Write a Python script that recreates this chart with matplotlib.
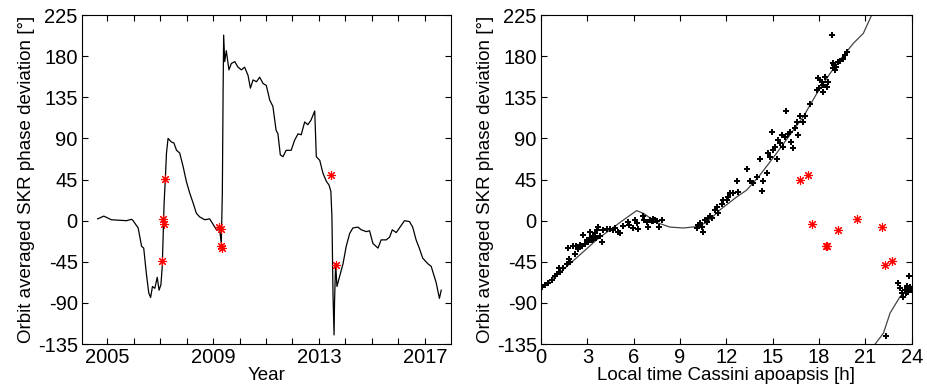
import numpy as np
import matplotlib
matplotlib.use('Agg')
import matplotlib.pyplot as plt
from matplotlib.ticker import MultipleLocator

plt.rcParams['font.family'] = ['Liberation Sans', 'DejaVu Sans']
plt.rcParams['font.size'] = 13.5
plt.rcParams['axes.unicode_minus'] = False

# left panel: orbit averaged phase deviation vs year
year = [2004.64, 2004.87, 2005.16, 2005.73, 2005.92, 2005.98, 2006.17, 2006.30, 2006.38, 2006.48,
        2006.57, 2006.64, 2006.71, 2006.80, 2006.89, 2006.96, 2007.03, 2007.08, 2007.11, 2007.15,
        2007.20, 2007.24, 2007.30, 2007.43, 2007.52, 2007.62, 2007.74, 2007.87, 2007.99, 2008.12,
        2008.25, 2008.37, 2008.50, 2008.69, 2008.87, 2009.00, 2009.13, 2009.25, 2009.31, 2009.35,
        2009.38, 2009.40, 2009.44, 2009.50, 2009.60, 2009.69, 2009.82, 2009.94, 2010.07, 2010.19,
        2010.32, 2010.41, 2010.51, 2010.64, 2010.76, 2010.89, 2011.01, 2011.14, 2011.26, 2011.38,
        2011.45, 2011.54, 2011.64, 2011.76, 2011.95, 2012.08, 2012.21, 2012.33, 2012.46, 2012.58,
        2012.70, 2012.84, 2012.90, 2013.03, 2013.15, 2013.28, 2013.38, 2013.45, 2013.49, 2013.53,
        2013.57, 2013.59, 2013.63, 2013.68, 2013.78, 2013.91, 2014.03, 2014.16, 2014.28, 2014.47,
        2014.60, 2014.79, 2014.91, 2015.04, 2015.23, 2015.35, 2015.54, 2015.67, 2015.77, 2015.92,
        2016.04, 2016.23, 2016.42, 2016.54, 2016.67, 2016.79, 2016.92, 2017.11, 2017.24, 2017.43,
        2017.55, 2017.62]
phase = [2, 5, 1, 0, 1.5, 0, -8, -28, -30, -58,
         -79, -84, -72, -74, -62, -76, -70, -50, -21, 19,
         48, 74, 90, 86, 85, 77, 74, 59, 43, 30,
         19, 8, 4, 1, 2, -4, -10, -10, -25, 30,
         146, 203, 174, 186, 165, 172, 174, 168, 165, 168,
         159, 145, 154, 152, 157, 150, 148, 132, 125, 99,
         95, 72, 70, 77, 77, 88, 95, 94, 108, 105,
         110, 120, 70, 66, 52, 43, 39, 32, 4, -80,
         -125, -87, -47, -72, -61, -47, -28, -14, -8, -7,
         -10, -12, -11, -25, -30, -21, -21, -18, -10, -13,
         -8, 0, -1, -7, -21, -30, -41, -47, -50, -68,
         -85, -76]

# red events (year / local time / phase)
ev_year = [2007.18, 2007.09, 2007.14, 2007.06, 2009.21, 2009.29, 2009.31, 2009.34, 2013.47, 2013.63]
ev_phase_l = [46, 2, -4, -44, -7, -9, -28, -30, 50, -48]
ev_lt = [16.77, 17.27, 17.52, 18.45, 18.54, 19.21, 20.44, 22.06, 22.27, 22.75]
ev_phase_r = [45, 50, -4, -28, -28, -10, 2, -7, -48, -44]

# right panel: model curve vs local time
lt_curve = [0, 1.88, 3.6, 4.47, 5.33, 6.19, 6.63, 7.49, 8.35, 9.22, 10.08, 10.73, 11.6, 12.67,
            13.32, 14.18, 15.26, 16.12, 16.99, 17.85, 18.71, 19.36, 20.22, 20.87, 21.41]
ph_curve = [-74, -47, -21, -10, 0.7, 11, 8, -2, -7, -8, -6.5, -2, 12, 26,
            33.5, 50, 74, 94, 114, 139, 161, 176, 194, 205, 225]
lt_curve2 = [21.63, 22.17, 22.60, 23.25, 24.0]
ph_curve2 = [-135, -123, -101, -83, -72]

# right panel: individual orbits
lt_pts = [0.04, 0.26, 0.47, 0.69, 0.91, 1.06, 1.23, 1.45, 1.19, 1.66, 1.83, 1.88, 1.77, 2.09, 2.2,
          2.27, 2.42, 2.53, 2.63, 2.74, 2.85, 2.96, 3.06, 3.17, 3.28, 3.39, 3.5, 3.56, 3.65, 3.71,
          3.82, 3.93, 3.39, 3.17,
          4.04, 4.25, 4.47, 4.64, 4.79, 5.01, 5.12, 5.29, 5.65, 5.72, 5.94, 6.09, 6.19, 6.3, 6.58,
          6.69, 6.84, 6.95, 7.06, 7.23, 7.38, 7.53, 7.66, 7.81, 7.17, 7.27,
          10.08, 10.19, 10.3, 10.4, 10.51, 10.62, 10.73, 10.84, 10.94, 11.05, 11.27, 11.37, 11.48,
          11.7, 11.81, 12.02, 12.13, 12.24, 12.45, 12.67, 12.78,
          13.32, 13.53, 13.75, 13.97, 14.18, 14.29, 14.4, 14.61, 14.72, 14.94, 14.83, 15.04, 15.15,
          15.26, 15.37, 15.48, 15.58, 15.69, 15.8, 15.86, 16.02, 16.12, 16.17, 16.3, 16.45, 16.56,
          16.66, 16.77, 16.99, 17.09,
          17.42, 17.85, 17.96, 18.07, 18.17, 18.28, 18.39, 18.5, 18.61, 18.02, 18.24, 18.82, 18.89,
          18.97, 19.04, 19.1, 18.93, 19.25, 19.36, 19.53, 19.68, 19.79,
          23.14, 23.25, 23.36, 23.46, 23.57, 23.64, 23.68, 23.79, 23.85, 23.9, 23.94, 23.85, 23.42,
          22.34]
ph_pts = [-73, -70, -68.5, -65, -61, -58, -56, -52, -52, -47, -42, -45, -30, -28, -36,
          -28, -31, -27, -28, -16, -25, -21, -23, -19, -21, -17, -14, -19, -10, -7,
          -17, -23, -20, -12,
          -10, -9.5, -9, -10, -8, -12, -14, -6, -1, -5, -8, 0.7, -3, -9.5, 5,
          0.7, -1, -6.5, 0.7, 1.5, 0.7, 0, -6.5, 0.7, 0, 0,
          -8, -5, -3, -6.5, -12, 0.7, -1, 2.5, 5, 2.5, 12, 15, 8,
          18, 23, 23, 26, 30, 30, 43, 31,
          56, 43, 41.5, 48, 67, 33, 43, 52, 74, 97, 70, 77, 81,
          68, 88, 85, 94, 81, 91, 120, 95, 97, 86, 79, 101, 108,
          94, 115, 108, 115,
          128, 143, 156, 154, 152, 148, 157, 146, 152, 145, 141, 203, 166.5,
          170, 165, 168, 172, 174, 175, 177, 181, 184,
          -68, -74, -79, -83, -76, -79, -72, -78, -75, -73, -76, -61, -84,
          -126]

yticks = np.arange(-135, 226, 45)

fig = plt.figure(figsize=(9.27, 3.91), dpi=100)
ax1 = fig.add_axes([0.0885, 0.120, 0.3975, 0.8416])
ax2 = fig.add_axes([0.5836, 0.120, 0.3999, 0.8416])

ax1.plot(year, phase, color='black', lw=0.9)
ax1.plot(ev_year, ev_phase_l, ls='none', marker=(8, 2, 0), ms=6.5, mew=0.8, color='red')
ax1.set_xlim(2004.05, 2017.97)
ax1.xaxis.set_minor_locator(MultipleLocator(1))
ax1.set_xticks([2005, 2009, 2013, 2017])
ax1.set_xlabel('Year', labelpad=0)

ax2.plot(lt_curve, ph_curve, color='#444444', lw=0.9)
ax2.plot(lt_curve2, ph_curve2, color='#444444', lw=0.9)
ax2.plot(lt_pts, ph_pts, ls='none', marker='P', ms=4.5, mew=0, color='black')
ax2.plot(ev_lt, ev_phase_r, ls='none', marker=(8, 2, 0), ms=6.5, mew=0.8, color='red')
ax2.set_xlim(0, 24)
ax2.set_xticks(np.arange(0, 25, 3))
ax2.set_xlabel('Local time Cassini apoapsis [h]', labelpad=0)

for ax in (ax1, ax2):
    ax.set_ylim(-135, 225)
    ax.set_yticks(yticks)
    ax.set_ylabel('Orbit averaged SKR phase deviation [°]', labelpad=2)
    ax.tick_params(which='both', direction='in', top=True, right=True, length=4, width=0.8,
                   labelsize=14.5, pad=3)
    for s in ax.spines.values():
        s.set_linewidth(0.8)

fig.savefig('out.png', dpi=100)
